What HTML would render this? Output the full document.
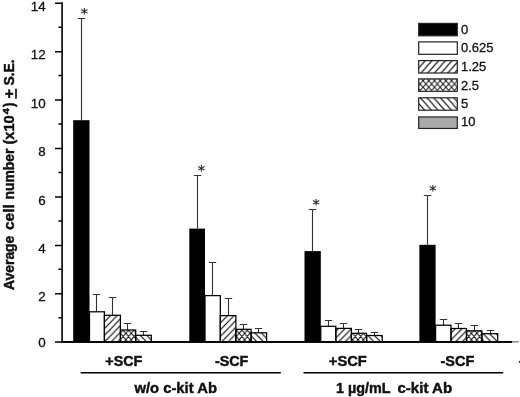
<!DOCTYPE html>
<html><head><meta charset="utf-8"><title>Figure</title>
<style>
html,body{margin:0;padding:0;background:#fff;}
svg{display:block;}
text{font-family:"Liberation Sans",Arial,Helvetica,sans-serif;fill:#111;stroke:#111;stroke-width:0.3px;}
.b{font-weight:bold;stroke-width:0.45px;}
</style></head><body>
<svg width="520" height="397" viewBox="0 0 520 397">
<defs>
<pattern id="h1" patternUnits="userSpaceOnUse" width="6.7" height="7.5" x="5.15" y="6">
<path d="M-6.7 15L13.4 -7.5M-6.7 7.5L6.7 -7.5M0 15L13.4 0" stroke="#111" stroke-width="1.1" fill="none"/>
</pattern>
<pattern id="h3" patternUnits="userSpaceOnUse" width="6.7" height="7.5" x="4.65" y="0">
<path d="M13.4 15L-6.7 -7.5M13.4 7.5L0 -7.5M6.7 15L-6.7 0" stroke="#111" stroke-width="1.1" fill="none"/>
</pattern>
<pattern id="b1" patternUnits="userSpaceOnUse" width="6.5" height="6.7" x="0.3" y="0.5">
<path d="M-6.5 13.4L13.0 -6.7M-6.5 6.7L6.5 -6.7M0 13.4L13.0 0" stroke="#000" stroke-width="1.1" fill="none"/>
</pattern>
<pattern id="b3" patternUnits="userSpaceOnUse" width="6.5" height="6.7" x="5.5" y="2.2">
<path d="M13.0 13.4L-6.5 -6.7M13.0 6.7L0 -6.7M6.5 13.4L-6.5 0" stroke="#000" stroke-width="1.1" fill="none"/>
</pattern>
<pattern id="b2" patternUnits="userSpaceOnUse" width="5.4" height="6.4" x="1.6" y="0.5">
<path d="M-5.4 12.8L10.8 -6.4M-5.4 6.4L5.4 -6.4M0 12.8L10.8 0M10.8 12.8L-5.4 -6.4M10.8 6.4L0 -6.4M5.4 12.8L-5.4 0" stroke="#000" stroke-width="0.95" fill="none"/>
</pattern>
<pattern id="h2" patternUnits="userSpaceOnUse" width="5.7" height="6.55" x="1.27" y="2.1">
<path d="M-5.7 13.1L11.4 -6.55M-5.7 6.55L5.7 -6.55M0 13.1L11.4 0M11.4 13.1L-5.7 -6.55M11.4 6.55L0 -6.55M5.7 13.1L-5.7 0" stroke="#111" stroke-width="1" fill="none"/>
</pattern>
</defs>
<rect width="520" height="397" fill="#fff"/>

<path d="M62.1 2.3V341.9H512" stroke="#000" stroke-width="1.6" fill="none"/>
<path d="M55 341.9H62M58.4 317.7H62M55 293.8H62M58.4 269.3H62M55 245.4H62M58.4 220.9H62M55 197.0H62M58.4 172.5H62M55 148.6H62M58.4 124.1H62M55 100.1H62M58.4 75.6H62M55 51.7H62M58.4 27.2H62M55 3.3H62" stroke="#000" stroke-width="1.5" fill="none"/>
<text x="45.7" y="347.1" font-size="13.4" text-anchor="end">0</text>
<text x="45.7" y="301.4" font-size="13.4" text-anchor="end">2</text>
<text x="45.7" y="253.0" font-size="13.4" text-anchor="end">4</text>
<text x="45.7" y="204.6" font-size="13.4" text-anchor="end">6</text>
<text x="45.7" y="156.2" font-size="13.4" text-anchor="end">8</text>
<text x="45.7" y="107.8" font-size="13.4" text-anchor="end">10</text>
<text x="45.7" y="59.4" font-size="13.4" text-anchor="end">12</text>
<text x="45.7" y="11.0" font-size="13.4" text-anchor="end">14</text>
<text class="b" font-size="14" transform="translate(14.3 289.9) rotate(-90)"><tspan x="0.0" y="0" font-size="14" textLength="54.2" lengthAdjust="spacingAndGlyphs">Average</tspan> <tspan x="59.8" y="0" font-size="14" textLength="25.9" lengthAdjust="spacingAndGlyphs">cell</tspan> <tspan x="90.3" y="0" font-size="14" textLength="51.0" lengthAdjust="spacingAndGlyphs">number</tspan> <tspan x="145.3" y="0" font-size="14" textLength="29.3" lengthAdjust="spacingAndGlyphs">(x10</tspan><tspan x="175.6" y="-5.7" font-size="8.5" textLength="6.1" lengthAdjust="spacingAndGlyphs">4</tspan><tspan x="182.9" y="0" font-size="14" textLength="4.4" lengthAdjust="spacingAndGlyphs">)</tspan> <tspan x="191.5" y="0" font-size="14" textLength="9.4" lengthAdjust="spacingAndGlyphs" text-decoration="underline">+</tspan> <tspan x="204.4" y="0" font-size="14" textLength="26.1" lengthAdjust="spacingAndGlyphs">S.E.</tspan></text>
<path d="M81.5 120.2V18.5M77.8 18.5H85.2M96.5 311.8V294.5M92.8 294.5H100.2M112.5 315.3V297.5M108.8 297.5H116.2M127.5 330.0V323.5M123.8 323.5H131.2M143.5 335.3V331.5M139.8 331.5H147.2" stroke="#333" stroke-width="1.1" fill="none"/>
<rect x="73.2" y="120.2" width="16.3" height="221.7" fill="#000"/>
<rect x="89.5" y="311.8" width="14.9" height="30.1" fill="#fff" stroke="#000" stroke-width="1.25"/>
<rect x="104.4" y="315.3" width="16.0" height="26.6" fill="url(#b1)" stroke="#000" stroke-width="1.25"/>
<rect x="120.4" y="330.0" width="15.3" height="11.9" fill="url(#b2)" stroke="#000" stroke-width="1.25"/>
<rect x="135.7" y="335.3" width="15.6" height="6.6" fill="url(#b3)" stroke="#000" stroke-width="1.25"/>
<text x="80.7" y="18.2" font-size="14.5" style="stroke-width:0.15px;font-family:'DejaVu Sans',sans-serif">*</text>
<path d="M197.5 228.6V175.5M193.8 175.5H201.2M212.5 295.6V262.5M208.8 262.5H216.2M228.5 315.6V298.5M224.8 298.5H232.2M243.5 329.3V324.5M239.8 324.5H247.2M258.5 332.8V328.5M254.8 328.5H262.2" stroke="#333" stroke-width="1.1" fill="none"/>
<rect x="189.3" y="228.6" width="15.7" height="113.3" fill="#000"/>
<rect x="205.0" y="295.6" width="15.3" height="46.3" fill="#fff" stroke="#000" stroke-width="1.25"/>
<rect x="220.3" y="315.6" width="15.6" height="26.3" fill="url(#b1)" stroke="#000" stroke-width="1.25"/>
<rect x="235.9" y="329.3" width="15.2" height="12.6" fill="url(#b2)" stroke="#000" stroke-width="1.25"/>
<rect x="251.1" y="332.8" width="15.5" height="9.1" fill="url(#b3)" stroke="#000" stroke-width="1.25"/>
<text x="197.8" y="175.4" font-size="14.5" style="stroke-width:0.15px;font-family:'DejaVu Sans',sans-serif">*</text>
<path d="M312.5 251.1V209.5M308.8 209.5H316.2M328.5 326.3V320.5M324.8 320.5H332.2M343.5 328.4V323.5M339.8 323.5H347.2M358.5 333.3V329.5M354.8 329.5H362.2M374.5 335.5V332.5M370.8 332.5H378.2" stroke="#333" stroke-width="1.1" fill="none"/>
<rect x="304.5" y="251.1" width="16.3" height="90.8" fill="#000"/>
<rect x="320.8" y="326.3" width="15.0" height="15.6" fill="#fff" stroke="#000" stroke-width="1.25"/>
<rect x="335.8" y="328.4" width="15.6" height="13.5" fill="url(#b1)" stroke="#000" stroke-width="1.25"/>
<rect x="351.4" y="333.3" width="15.2" height="8.6" fill="url(#b2)" stroke="#000" stroke-width="1.25"/>
<rect x="366.6" y="335.5" width="15.6" height="6.4" fill="url(#b3)" stroke="#000" stroke-width="1.25"/>
<text x="312.4" y="209.2" font-size="14.5" style="stroke-width:0.15px;font-family:'DejaVu Sans',sans-serif">*</text>
<path d="M427.5 244.8V195.5M423.8 195.5H431.2M443.5 325.2V319.5M439.8 319.5H447.2M458.5 328.5V323.5M454.8 323.5H462.2M474.5 330.8V325.5M470.8 325.5H478.2M490.5 333.7V330.5M486.8 330.5H494.2" stroke="#333" stroke-width="1.1" fill="none"/>
<rect x="419.4" y="244.8" width="16.2" height="97.1" fill="#000"/>
<rect x="435.6" y="325.2" width="15.4" height="16.7" fill="#fff" stroke="#000" stroke-width="1.25"/>
<rect x="451.0" y="328.5" width="15.5" height="13.4" fill="url(#b1)" stroke="#000" stroke-width="1.25"/>
<rect x="466.5" y="330.8" width="15.4" height="11.1" fill="url(#b2)" stroke="#000" stroke-width="1.25"/>
<rect x="481.9" y="333.7" width="15.8" height="8.2" fill="url(#b3)" stroke="#000" stroke-width="1.25"/>
<text x="429.3" y="195.3" font-size="14.5" style="stroke-width:0.15px;font-family:'DejaVu Sans',sans-serif">*</text>
<path d="M61.2 341.9H512" stroke="#000" stroke-width="1.6" fill="none"/>
<path d="M512 341.9H518.7" stroke="#222" stroke-width="0.8" fill="none"/>
<rect x="418.7" y="23.4" width="38.6" height="12.4" fill="#000" stroke="#222" stroke-width="1.2"/>
<text x="461" y="33.8" font-size="13">0</text>
<rect x="418.7" y="41.9" width="38.6" height="12.4" fill="#fff" stroke="#222" stroke-width="1.2"/>
<text x="461" y="52.3" font-size="13">0.625</text>
<rect x="418.7" y="60.6" width="38.6" height="12.4" fill="url(#h1)" stroke="#222" stroke-width="1.2"/>
<text x="461" y="71.0" font-size="13">1.25</text>
<rect x="418.7" y="78.9" width="38.6" height="12.4" fill="url(#h2)" stroke="#222" stroke-width="1.2"/>
<text x="461" y="89.7" font-size="13">2.5</text>
<rect x="418.7" y="97.8" width="38.6" height="12.4" fill="url(#h3)" stroke="#222" stroke-width="1.2"/>
<text x="461" y="108.2" font-size="13">5</text>
<rect x="418.7" y="116.95" width="38.6" height="11.5" fill="#aaa" stroke="#222" stroke-width="1.2"/>
<text x="461" y="126.2" font-size="13">10</text>
<text class="b" font-size="15.2" x="105.3" y="365.7" textLength="37" lengthAdjust="spacingAndGlyphs">+SCF</text>
<text class="b" font-size="15.2" x="214.9" y="365.7" textLength="33.4" lengthAdjust="spacingAndGlyphs">-SCF</text>
<text class="b" font-size="15.2" x="328.8" y="365.7" textLength="38" lengthAdjust="spacingAndGlyphs">+SCF</text>
<text class="b" font-size="15.2" x="440.5" y="365.7" textLength="33.8" lengthAdjust="spacingAndGlyphs">-SCF</text>
<path d="M80.6 372.75H280.8M303.5 372.75H503.2" stroke="#000" stroke-width="1.5" fill="none"/>
<text class="b" font-size="15" x="134.4" y="392.5" textLength="82.6" lengthAdjust="spacingAndGlyphs">w/o c-kit Ab</text>
<text class="b" font-size="15" x="336.0" y="392.5" textLength="54.6" lengthAdjust="spacingAndGlyphs">1 µg/mL</text>
<text class="b" font-size="15" x="397.5" y="392.5" textLength="54.6" lengthAdjust="spacingAndGlyphs">c-kit Ab</text>
<rect x="518.9" y="360.8" width="1.1" height="2.2" fill="#444"/>
</svg></body></html>
